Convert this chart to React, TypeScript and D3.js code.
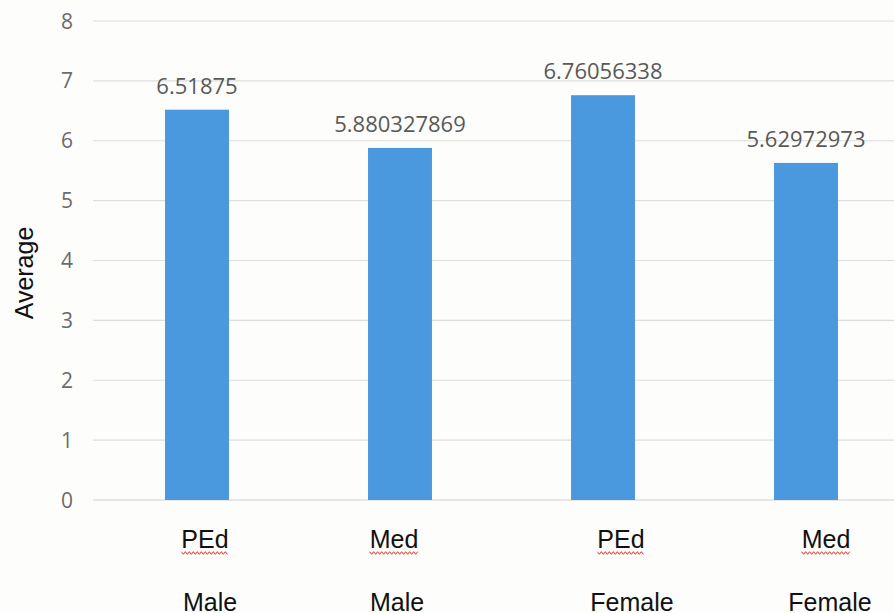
import { useEffect, useRef } from 'react';
import * as d3 from 'd3';

const categories = ['PEd', 'Med', 'PEd', 'Med'];
const groups = ['Male', 'Male', 'Female', 'Female'];
const values = [6.51875, 5.880327869, 6.76056338, 5.62972973];
const valueLabels = ['6.51875', '5.880327869', '6.76056338', '5.62972973'];
const yTicks = [0, 1, 2, 3, 4, 5, 6, 7, 8];

const W = 894;
const H = 613;
// little shifts of the hand-placed text boxes under the bars
const catDx = [8, -6, 18, 20];
const groupDx = [13, -3, 29, 24];

export default function App() {
  const svgRef = useRef<SVGSVGElement>(null);

  useEffect(() => {
    if (!svgRef.current) return;
    const svg = d3.select(svgRef.current);
    svg.selectAll('*').remove();

    const margin = { top: 21, left: 95.5, bottom: 113 };
    const x = d3.scaleBand<number>()
      .domain(d3.range(values.length))
      .range([margin.left, margin.left + 812])
      .paddingInner(0.685)
      .paddingOuter(0.3425);
    const y = d3.scaleLinear().domain([0, 8]).range([H - margin.bottom, margin.top]);

    svg.append('rect').attr('width', W).attr('height', H).attr('fill', '#fdfdfb');

    const grid = svg.append('g');
    grid.selectAll('line')
      .data(yTicks)
      .join('line')
      .attr('x1', 93)
      .attr('x2', W)
      .attr('y1', (d) => y(d))
      .attr('y2', (d) => y(d))
      .attr('stroke', (d) => (d === 0 ? '#d0d0d0' : '#dedede'))
      .attr('stroke-width', 1.2);

    svg.append('g')
      .selectAll('text')
      .data(yTicks)
      .join('text')
      .attr('x', 73)
      .attr('y', (d) => y(d))
      .attr('dy', '0.36em')
      .attr('text-anchor', 'end')
      .attr('font-family', 'Open Sans, sans-serif')
      .attr('font-size', 21)
      .attr('fill', '#6b6b6b')
      .text((d) => d);

    svg.append('g')
      .selectAll('rect')
      .data(values)
      .join('rect')
      .attr('x', (_d, i) => x(i)!)
      .attr('width', x.bandwidth())
      .attr('y', (d) => y(d))
      .attr('height', (d) => y(0) - y(d))
      .attr('fill', '#4a98dd');

    svg.append('g')
      .selectAll('text')
      .data(values)
      .join('text')
      .attr('x', (_d, i) => x(i)! + x.bandwidth() / 2)
      .attr('y', (d) => y(d) - 16)
      .attr('text-anchor', 'middle')
      .attr('font-family', 'Open Sans, sans-serif')
      .attr('font-size', 22)
      .attr('fill', '#595959')
      .text((_d, i) => valueLabels[i]);

    const cats = svg.append('g');
    categories.forEach((c, i) => {
      const cx = x(i)! + x.bandwidth() / 2 + catDx[i];
      const t = cats.append('text')
        .attr('x', cx)
        .attr('y', 548)
        .attr('text-anchor', 'middle')
        .attr('font-family', 'Liberation Sans, Arial, sans-serif')
        .attr('font-size', 25)
        .attr('fill', '#111')
        .text(c);
      const bb = (t.node() as SVGTextElement).getBBox();
      // spell-check squiggle
      const pts: [number, number][] = [];
      for (let px = bb.x; px <= bb.x + bb.width; px += 2) {
        pts.push([px, 553 + ((Math.round((px - bb.x) / 2) % 2) ? 1.3 : -1.3)]);
      }
      cats.append('path')
        .attr('d', d3.line()(pts))
        .attr('fill', 'none')
        .attr('stroke', '#e0322b')
        .attr('stroke-width', 1);
    });

    svg.append('g')
      .selectAll('text')
      .data(groups)
      .join('text')
      .attr('x', (_d, i) => x(i)! + x.bandwidth() / 2 + groupDx[i])
      .attr('y', 611)
      .attr('text-anchor', 'middle')
      .attr('font-family', 'Liberation Sans, Arial, sans-serif')
      .attr('font-size', 25)
      .attr('fill', '#111')
      .text((d) => d);

    svg.append('text')
      .attr('transform', `translate(33, 273) rotate(-90)`)
      .attr('text-anchor', 'middle')
      .attr('font-family', 'Liberation Sans, Arial, sans-serif')
      .attr('font-size', 25)
      .attr('fill', '#111')
      .text('Average');
  }, []);

  return (
    <div style={{ position: 'fixed', left: 0, top: 0 }}>
      <svg ref={svgRef} width={W} height={H} style={{ display: 'block' }} />
    </div>
  );
}
